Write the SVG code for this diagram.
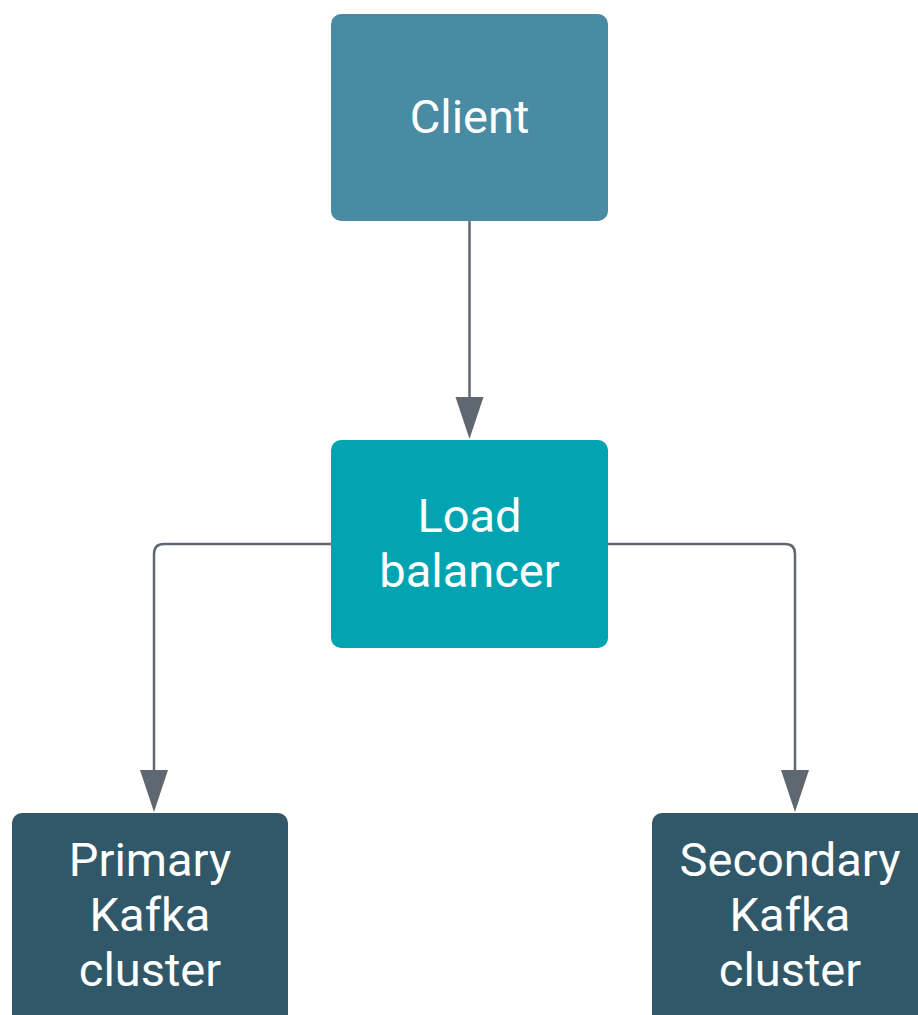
<svg xmlns="http://www.w3.org/2000/svg" width="918" height="1015" viewBox="0 0 918 1015">
<defs>
<style>
.lbl{font-family:Roboto,"Liberation Sans",sans-serif;font-size:47px;fill:#ffffff;text-anchor:middle}
.conn{fill:none;stroke:#5f6770;stroke-width:2.5}
.head{fill:#5f6770}
</style>
</defs>
<rect width="918" height="1015" fill="#ffffff"/>
<g id="connectors">
<path class="conn" d="M469.5,221 V412"/>
<path class="head" d="M455.5,397 H483.5 L469.5,439 Z"/>
<path class="conn" d="M331,544 H164 Q154,544 154,554 V785"/>
<path class="head" d="M140,770 H168 L154,812 Z"/>
<path class="conn" d="M608,544 H785 Q795,544 795,554 V785"/>
<path class="head" d="M781,770 H809 L795,812 Z"/>
</g>
<g id="client">
<rect x="331" y="14" width="277" height="207" rx="10" fill="#4a8ba4"/>
<text class="lbl" x="469.5" y="133">Client</text>
</g>
<g id="load-balancer">
<rect x="331" y="440" width="277" height="208" rx="10" fill="#02a4b1"/>
<text class="lbl" x="469.5" y="532">Load</text>
<text class="lbl" x="469.5" y="587">balancer</text>
</g>
<g id="primary">
<rect x="12" y="813" width="276" height="220" rx="10" fill="#315869"/>
<text class="lbl" x="150" y="876">Primary</text>
<text class="lbl" x="150" y="931">Kafka</text>
<text class="lbl" x="150" y="986">cluster</text>
</g>
<g id="secondary">
<rect x="652" y="813" width="290" height="220" rx="10" fill="#315869"/>
<text class="lbl" x="790" y="876">Secondary</text>
<text class="lbl" x="790" y="931">Kafka</text>
<text class="lbl" x="790" y="986">cluster</text>
</g>
</svg>
